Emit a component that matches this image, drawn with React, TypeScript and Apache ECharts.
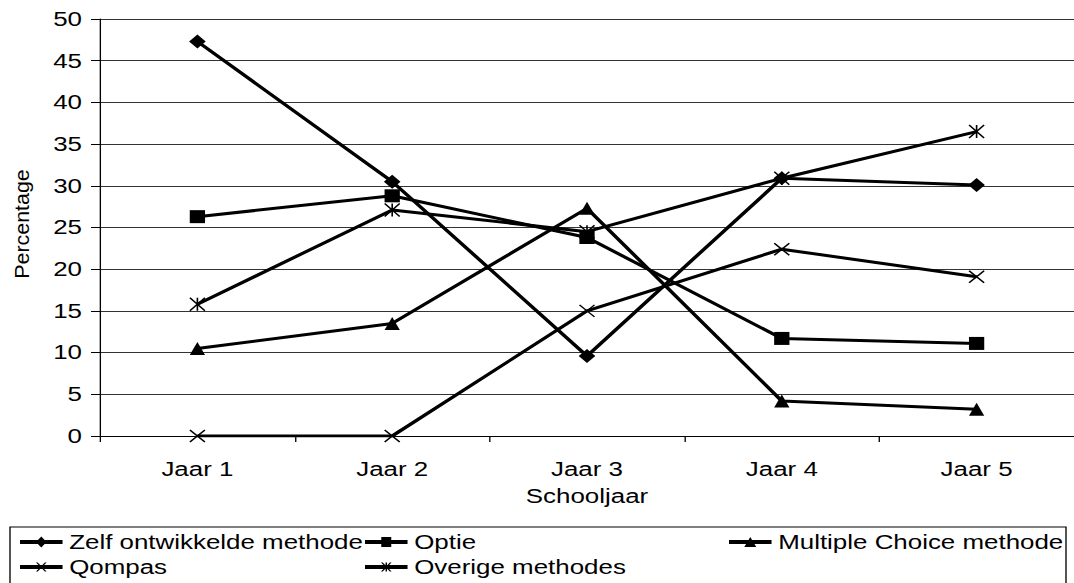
import React, { useEffect, useRef } from "react";
import * as echarts from "echarts";

const categories = ["Jaar 1", "Jaar 2", "Jaar 3", "Jaar 4", "Jaar 5"];
const zelf = [47.3, 30.5, 9.6, 30.9, 30.1];
const optie = [26.3, 28.8, 23.8, 11.7, 11.1];
const multipleChoice = [10.5, 13.5, 27.3, 4.2, 3.2];
const qompas = [0, 0, 15.0, 22.4, 19.1];
const overige = [15.8, 27.1, 24.5, 30.9, 36.5];

const seriesNames = [
  "Zelf ontwikkelde methode",
  "Optie",
  "Multiple Choice methode",
  "Qompas",
  "Overige methodes",
];

const W = 808;
const H = 583;
const S = 1074 / W; // horizontal stretch of the reference
const FONT = "'Liberation Sans', Arial, Helvetica, sans-serif";

const X_PATH = "path://M0,0L10,10M10,0L0,10";
const STAR_PATH = "path://M0,0L10,10M10,0L0,10M5,0L5,10";

// legend icons: thick line with the marker in the middle (filled outlines)
const LEG_DIAMOND =
  "path://M0,3.5L13.45,3.5L16,0L18.55,3.5L32,3.5L32,7.5L18.55,7.5L16,11L13.45,7.5L0,7.5Z";
const LEG_SQUARE =
  "path://M0,3L12.25,3L12.25,0L19.75,0L19.75,3L32,3L32,7L19.75,7L19.75,10L12.25,10L12.25,7L0,7Z";
const LEG_TRIANGLE =
  "path://M0,3L14.65,3L16,0L17.35,3L32,3L32,7L19.15,7L20.5,10L11.5,10L12.85,7L0,7Z";
const LEG_X =
  "path://M0,2.5L32,2.5L32,6.5L0,6.5ZM12,0L13.3,0L20,9L18.7,9ZM18.7,0L20,0L13.3,9L12,9Z";
const LEG_STAR =
  "path://M0,2.5L32,2.5L32,6.5L0,6.5ZM12,0L13.3,0L20,9L18.7,9ZM18.7,0L20,0L13.3,9L12,9ZM15.45,0L16.55,0L16.55,9L15.45,9Z";

export default function App() {
  const ref = useRef<HTMLDivElement>(null);

  useEffect(() => {
    if (!ref.current) return;
    const chart = echarts.init(ref.current, undefined, { renderer: "svg" });

    const mkSeries = (
      name: string,
      data: number[],
      symbol: string,
      size: number[],
      bw: number
    ) => ({
      type: "line",
      name,
      data,
      symbol,
      symbolSize: size,
      showAllSymbol: true,
      lineStyle: { color: "#000", width: 3 },
      itemStyle: { color: "#000", borderColor: "#000", borderWidth: bw },
      emphasis: { disabled: true },
      z: 3,
    });

    const mkLegend = (
      name: string,
      icon: string,
      ih: number,
      left: number,
      top: number
    ) => ({
      data: [{ name, icon }],
      orient: "horizontal",
      padding: 0,
      itemWidth: 32,
      itemHeight: ih,
      symbolKeepAspect: false,
      itemStyle: { color: "#000", borderWidth: 0 },
      textStyle: { fontFamily: FONT, fontSize: 19.5, color: "#000" },
      selectedMode: false,
      left,
      top,
    });

    const row1 = 532;
    const row2 = 557;
    const col1 = 20 / S;
    const col2 = 365 / S;
    const col3 = 729 / S;

    chart.setOption({
      animation: false,
      backgroundColor: "#fff",
      grid: {
        left: 100 / S,
        top: 19,
        bottom: H - 436,
        right: W - 1085 / S,
        containLabel: false,
      },
      xAxis: {
        type: "category",
        data: categories,
        boundaryGap: true,
        axisLine: { lineStyle: { color: "#000", width: 1 } },
        axisTick: { show: true, length: 6, lineStyle: { color: "#000" } },
        axisLabel: {
          margin: 23,
          fontFamily: FONT,
          fontSize: 19.5,
          color: "#000",
        },
        name: "Schooljaar",
        nameLocation: "middle",
        nameGap: 50,
        nameTextStyle: { fontFamily: FONT, fontSize: 19.5, color: "#000" },
        splitLine: { show: false },
      },
      yAxis: {
        type: "value",
        min: 0,
        max: 50,
        interval: 5,
        axisLine: { show: true, lineStyle: { color: "#000", width: 1 } },
        axisTick: { show: true, length: 9 / S, lineStyle: { color: "#000" } },
        axisLabel: {
          margin: 18 / S,
          fontFamily: FONT,
          fontSize: 19.5,
          color: "#000",
        },
        splitLine: { show: true, lineStyle: { color: "#333", width: 1 } },
      },
      legend: [
        mkLegend(seriesNames[0], LEG_DIAMOND, 11, col1, row1),
        mkLegend(seriesNames[1], LEG_SQUARE, 10, col2, row1),
        mkLegend(seriesNames[2], LEG_TRIANGLE, 10, col3, row1),
        mkLegend(seriesNames[3], LEG_X, 9, col1, row2),
        mkLegend(seriesNames[4], LEG_STAR, 9, col2, row2),
      ],
      graphic: [
        {
          type: "rect",
          shape: { x: 10 / S, y: 527, width: 1056 / S, height: 80 },
          style: { fill: "none", stroke: "#000", lineWidth: 1 },
          silent: true,
          z: 0,
        },
        {
          type: "text",
          x: 22 / S,
          y: 224,
          rotation: Math.PI / 2,
          scaleX: 1.38,
          style: {
            text: "Percentage",
            fontFamily: FONT,
            fontSize: 15.5,
            fill: "#000",
            align: "center",
            verticalAlign: "middle",
          },
          silent: true,
        },
      ],
      series: [
        mkSeries(seriesNames[0], zelf, "diamond", [12.5, 14], 0),
        mkSeries(seriesNames[1], optie, "rect", [11.5, 13], 0),
        mkSeries(seriesNames[2], multipleChoice, "triangle", [11.5, 13], 0),
        mkSeries(seriesNames[3], qompas, X_PATH, [11.3, 12], 1.3),
        mkSeries(seriesNames[4], overige, STAR_PATH, [11.3, 13], 1.3),
      ],
    });

    return () => chart.dispose();
  }, []);

  return (
    <div
      ref={ref}
      style={{
        position: "fixed",
        left: 0,
        top: 0,
        width: W,
        height: H,
        transform: `scaleX(${S})`,
        transformOrigin: "0 0",
        background: "#fff",
      }}
    />
  );
}
